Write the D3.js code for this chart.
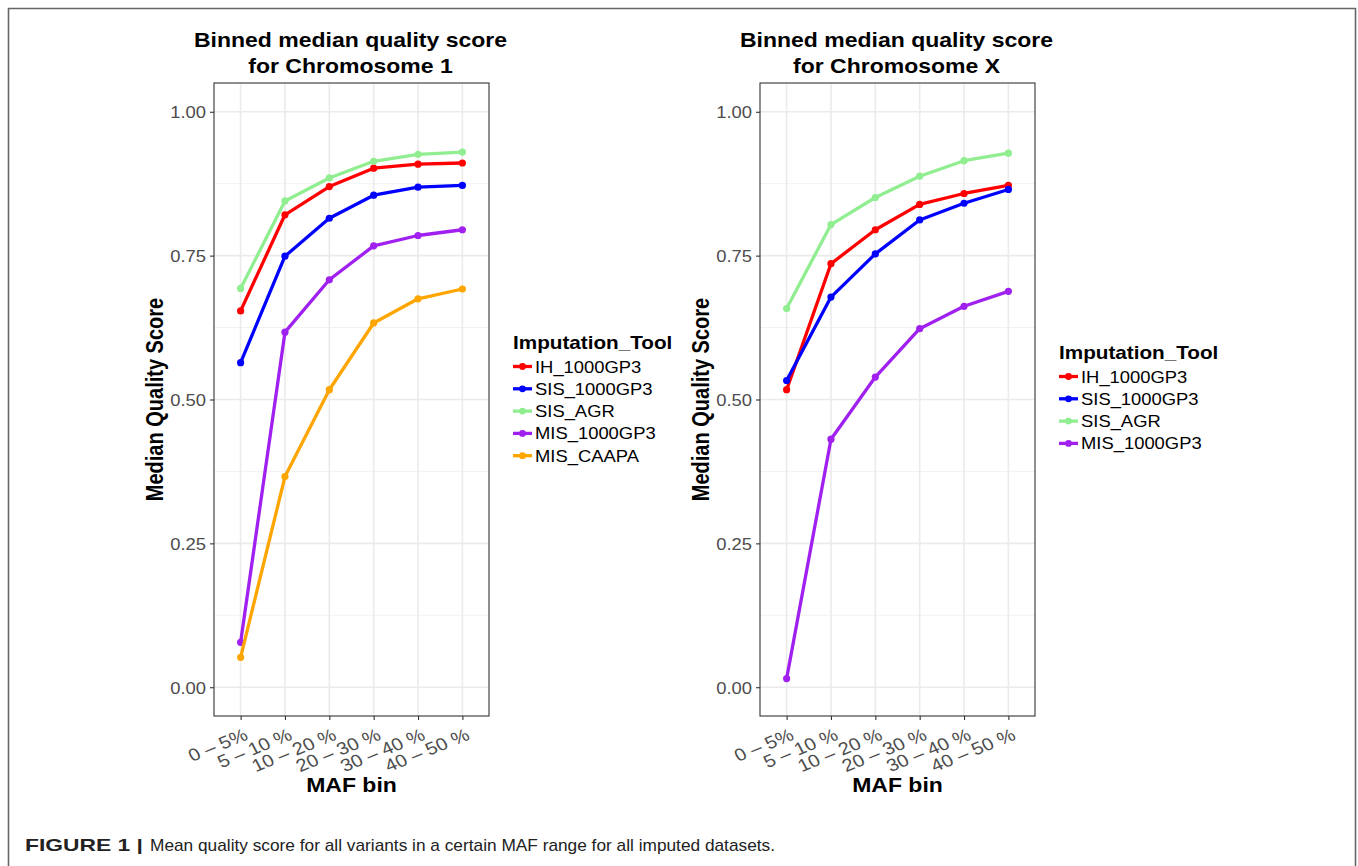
<!DOCTYPE html>
<html><head><meta charset="utf-8">
<script src="https://cdn.jsdelivr.net/npm/d3@7"></script>
<style>body{margin:0;background:#fff}svg{display:block}text{font-family:"Liberation Sans",Arial,Helvetica,sans-serif}</style>
</head><body><svg id="c" width="1358" height="866"></svg>
<script>
// ---------- data ----------
const mafBins = ["0 – 5%", "5 – 10 %", "10 – 20 %", "20 – 30 %", "30 – 40 %", "40 – 50 %"];
const yTicks = [0, 0.25, 0.5, 0.75, 1.0];
const yMinorTicks = [0.125, 0.375, 0.625, 0.875];
const toolNames = ["IH_1000GP3", "SIS_1000GP3", "SIS_AGR", "MIS_1000GP3", "MIS_CAAPA"];
const toolColors = ["#ff0000", "#0000ff", "#90ee90", "#a020f0", "#ffa500"];

// Chromosome 1
const chr1_IH_1000GP3  = [0.654, 0.821, 0.870, 0.902, 0.909, 0.911];
const chr1_SIS_1000GP3 = [0.564, 0.749, 0.815, 0.855, 0.869, 0.872];
const chr1_SIS_AGR     = [0.693, 0.845, 0.885, 0.914, 0.926, 0.930];
const chr1_MIS_1000GP3 = [0.078, 0.617, 0.708, 0.767, 0.785, 0.795];
const chr1_MIS_CAAPA   = [0.052, 0.366, 0.517, 0.633, 0.675, 0.692];

// Chromosome X
const chrX_IH_1000GP3  = [0.517, 0.736, 0.795, 0.839, 0.858, 0.872];
const chrX_SIS_1000GP3 = [0.533, 0.678, 0.753, 0.812, 0.841, 0.865];
const chrX_SIS_AGR     = [0.658, 0.804, 0.851, 0.888, 0.915, 0.928];
const chrX_MIS_1000GP3 = [0.015, 0.431, 0.539, 0.623, 0.662, 0.688];

const panelTitles = [["Binned median quality score", "for Chromosome 1"], ["Binned median quality score", "for Chromosome X"]];
const captionBold = "FIGURE 1 |";
const captionText = "Mean quality score for all variants in a certain MAF range for all imputed datasets.";

// ---------- drawing ----------
const SX = 1.15; // horizontal stretch of the reference image
const svg = d3.select("#c");

function stext(g, x, y, str, o = {}) {
  return g.append("text")
    .attr("transform", `translate(${x},${y}) scale(${SX},1)` + (o.rot ? ` rotate(${o.rot})` : ""))
    .attr("text-anchor", o.anchor || "start")
    .attr("font-size", o.size || 16)
    .attr("font-weight", o.bold ? "bold" : "normal")
    .attr("fill", o.fill || "#000")
    .text(str);
}

const panels = [
  { x0: 214, x1: 489, titles: panelTitles[0], legX: 513, legY: 349,
    series: [chr1_IH_1000GP3, chr1_SIS_1000GP3, chr1_SIS_AGR, chr1_MIS_1000GP3, chr1_MIS_CAAPA] },
  { x0: 760, x1: 1035, titles: panelTitles[1], legX: 1059, legY: 359,
    series: [chrX_IH_1000GP3, chrX_SIS_1000GP3, chrX_SIS_AGR, chrX_MIS_1000GP3] }
];

const yTop = 83, yBot = 716;
const y = d3.scaleLinear().domain([-0.05, 1.05]).range([yBot, yTop]);

panels.forEach(p => {
  const g = svg.append("g");
  const x = d3.scalePoint().domain(mafBins).range([p.x0, p.x1]).padding(0.6);
  const cx = (p.x0 + p.x1) / 2;

  // grid
  g.selectAll(".ymin").data(yMinorTicks).join("line")
    .attr("x1", p.x0).attr("x2", p.x1).attr("y1", d => y(d)).attr("y2", d => y(d))
    .attr("stroke", "#f2f2f2").attr("stroke-width", 1);
  g.selectAll(".ymaj").data(yTicks).join("line")
    .attr("x1", p.x0).attr("x2", p.x1).attr("y1", d => y(d)).attr("y2", d => y(d))
    .attr("stroke", "#ebebeb").attr("stroke-width", 1.6);
  g.selectAll(".xmaj").data(mafBins).join("line")
    .attr("x1", d => x(d)).attr("x2", d => x(d)).attr("y1", yTop).attr("y2", yBot)
    .attr("stroke", "#ebebeb").attr("stroke-width", 1.6);

  // series
  const line = d3.line().x((d, i) => x(mafBins[i])).y(d => y(d));
  p.series.forEach((vals, si) => {
    g.append("path").datum(vals).attr("d", line)
      .attr("fill", "none").attr("stroke", toolColors[si]).attr("stroke-width", 3.3)
      .attr("stroke-linejoin", "round");
    g.selectAll(null).data(vals).join("circle")
      .attr("cx", (d, i) => x(mafBins[i])).attr("cy", d => y(d)).attr("r", 3.6)
      .attr("fill", toolColors[si]);
  });

  // panel border
  g.append("rect").attr("x", p.x0).attr("y", yTop).attr("width", p.x1 - p.x0).attr("height", yBot - yTop)
    .attr("fill", "none").attr("stroke", "#333").attr("stroke-width", 1.1);

  // y axis
  const ya = g.append("g").attr("transform", `translate(${p.x0},0)`)
    .call(d3.axisLeft(y).tickValues(yTicks).tickFormat(d3.format(".2f")).tickSize(4).tickPadding(0));
  ya.select(".domain").remove();
  ya.selectAll(".tick line").attr("stroke", "#333").attr("stroke-width", 1.1);
  ya.selectAll(".tick text").each(function(d) {
    const t = d3.select(this);
    t.attr("x", null).attr("dy", null)
      .attr("transform", `translate(-8,6) scale(${SX},1)`)
      .attr("font-size", 16).attr("fill", "#4d4d4d")
      .attr("font-family", "Liberation Sans, Arial, sans-serif");
  });

  // x axis
  const xa = g.append("g").attr("transform", `translate(0,${yBot})`)
    .call(d3.axisBottom(x).tickSize(4).tickPadding(0));
  xa.select(".domain").remove();
  xa.selectAll(".tick line").attr("stroke", "#333").attr("stroke-width", 1.1);
  xa.selectAll(".tick text").each(function(d) {
    const t = d3.select(this);
    t.attr("y", null).attr("dy", null)
      .attr("transform", `translate(8,23) scale(${SX},1) rotate(-25)`)
      .attr("text-anchor", "end")
      .attr("font-size", 17.5).attr("fill", "#4d4d4d")
      .attr("font-family", "Liberation Sans, Arial, sans-serif");
  });

  // titles
  stext(g, cx - 1, 47, p.titles[0], { anchor: "middle", size: 20, bold: true });
  stext(g, cx - 1, 73, p.titles[1], { anchor: "middle", size: 20, bold: true });
  stext(g, cx, 792, "MAF bin", { anchor: "middle", size: 20, bold: true });
  stext(g, p.x0 - 51, (yTop + yBot) / 2, "Median Quality Score", { anchor: "middle", size: 20, bold: true, rot: -90 });

  // legend
  stext(g, p.legX, p.legY, "Imputation_Tool", { size: 18, bold: true });
  p.series.forEach((vals, si) => {
    const ly = p.legY + 17.5 + si * 22.3;
    g.append("line").attr("x1", p.legX).attr("x2", p.legX + 19).attr("y1", ly).attr("y2", ly)
      .attr("stroke", toolColors[si]).attr("stroke-width", 3.3);
    g.append("circle").attr("cx", p.legX + 9.5).attr("cy", ly).attr("r", 3.4).attr("fill", toolColors[si]);
    stext(g, p.legX + 22, ly + 6, toolNames[si], { size: 16, fill: "#000" });
  });
});

// outer frame
svg.append("path").attr("d", "M8.5,880 V8.5 H1355.5 V880")
  .attr("fill", "none").attr("stroke", "#666").attr("stroke-width", 1.6);

// caption
svg.append("text").attr("x", 25).attr("y", 851).attr("font-size", 17).attr("font-weight", "bold")
  .attr("fill", "#222").attr("textLength", 118).attr("lengthAdjust", "spacingAndGlyphs").text(captionBold);
svg.append("text").attr("x", 150).attr("y", 851).attr("font-size", 17)
  .attr("fill", "#222").attr("textLength", 625).attr("lengthAdjust", "spacingAndGlyphs").text(captionText);
</script></body></html>
